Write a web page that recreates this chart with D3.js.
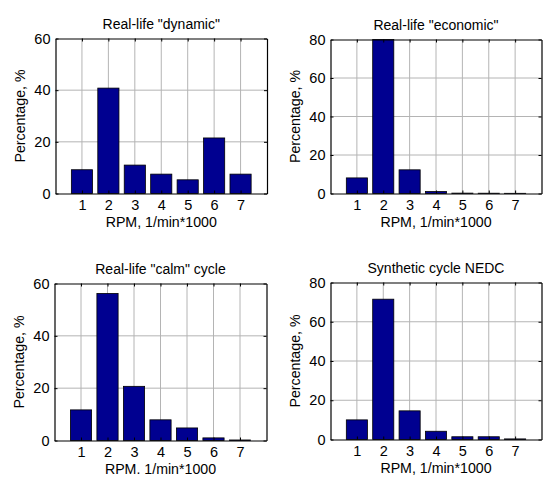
<!DOCTYPE html>
<html>
<head>
<meta charset="utf-8">
<script src="https://cdn.jsdelivr.net/npm/d3@7"></script>
<style>
  body { margin: 0; background: #fff; }
  svg text { font-family: "Liberation Sans", Arial, sans-serif; fill: #000; }
</style>
</head>
<body>
<div id="chart"></div>
<script>
// RPM bins, 1/min*1000
var rpm = [1, 2, 3, 4, 5, 6, 7];

var titles = ['Real-life "dynamic"', 'Real-life "economic"', 'Real-life "calm" cycle', 'Synthetic cycle NEDC'];
var xLabels = ["RPM, 1/min*1000", "RPM, 1/min*1000", "RPM. 1/min*1000", "RPM, 1/min*1000"];

var dynamicPct  = [9.2, 40.8, 11.0, 7.5, 5.3, 21.5, 7.5];
var economicPct = [8.1, 80, 12.3, 1.0, 0.2, 0.15, 0.1];
var calmPct     = [11.7, 56.2, 20.7, 7.9, 4.8, 1.0, 0.2];
var nedcPct     = [10.0, 71.5, 14.6, 4.2, 1.4, 1.4, 0.3];

var yTicks60 = [0, 20, 40, 60];
var yTicks80 = [0, 20, 40, 60, 80];

var W = 544, H = 478;

var svg = d3.select("#chart")
    .append("svg")
    .attr("width", W)
    .attr("height", H);

var panels = [
    { values: dynamicPct,  yMax: 60, yTicks: yTicks60, box: { left: 55.5,  right: 267,   top: 38.5,  bottom: 193.5 } },
    { values: economicPct, yMax: 80, yTicks: yTicks80, box: { left: 330.5, right: 541.5, top: 39.5,  bottom: 193.5 } },
    { values: calmPct,     yMax: 60, yTicks: yTicks60, box: { left: 54.5,  right: 266.5, top: 283.5, bottom: 440.5 } },
    { values: nedcPct,     yMax: 80, yTicks: yTicks80, box: { left: 330.5, right: 541.5, top: 282.5, bottom: 439.5 } }
];

panels.forEach(function(p, i) {
    var b = p.box;
    var width = b.right - b.left;
    var height = b.bottom - b.top;

    var g = svg.append("g")
        .attr("transform", "translate(" + b.left + "," + b.top + ")");

    var x = d3.scaleLinear().domain([0, 8]).range([0, width]);
    var y = d3.scaleLinear().domain([0, p.yMax]).range([height, 0]);

    // grid
    g.append("g")
        .selectAll("line")
        .data(rpm)
        .enter().append("line")
        .attr("x1", function(d) { return x(d); })
        .attr("x2", function(d) { return x(d); })
        .attr("y1", 0)
        .attr("y2", height)
        .attr("stroke", "#b4b4b4")
        .attr("stroke-width", 1);

    g.append("g")
        .selectAll("line")
        .data(p.yTicks.slice(1, -1))
        .enter().append("line")
        .attr("x1", 0)
        .attr("x2", width)
        .attr("y1", function(d) { return y(d); })
        .attr("y2", function(d) { return y(d); })
        .attr("stroke", "#b4b4b4")
        .attr("stroke-width", 1);

    // bars
    var bw = x(0.8) - x(0);
    g.append("g")
        .selectAll("rect")
        .data(p.values)
        .enter().append("rect")
        .attr("x", function(d, j) { return x(rpm[j]) - bw / 2; })
        .attr("y", function(d) { return y(Math.min(d, p.yMax)); })
        .attr("width", bw)
        .attr("height", function(d) { return height - y(Math.min(d, p.yMax)); })
        .attr("fill", "#000090")
        .attr("stroke", "#000")
        .attr("stroke-width", 0.8);

    // axes (MATLAB style box, inward ticks)
    var xAxis = g.append("g")
        .attr("transform", "translate(0," + height + ")")
        .call(d3.axisBottom(x).tickValues(rpm).tickSizeInner(-3).tickSizeOuter(0).tickPadding(6));
    var xTop = g.append("g")
        .call(d3.axisTop(x).tickValues(rpm).tickSizeInner(-3).tickSizeOuter(0).tickFormat(""));
    var yAxis = g.append("g")
        .call(d3.axisLeft(y).tickValues(p.yTicks).tickSizeInner(-3).tickSizeOuter(0).tickPadding(5));
    var yRight = g.append("g")
        .attr("transform", "translate(" + width + ",0)")
        .call(d3.axisRight(y).tickValues(p.yTicks).tickSizeInner(-3).tickSizeOuter(0).tickFormat(""));

    [xAxis, xTop, yAxis, yRight].forEach(function(a) {
        a.select(".domain").attr("stroke", "#000").attr("stroke-width", 1.2);
        a.selectAll(".tick line").attr("stroke", "#000");
        a.selectAll("text").style("font-size", "14.5px").attr("fill", "#000");
    });
    xAxis.selectAll(".tick text").attr("dy", "0.71em");

    // title
    g.append("text")
        .attr("x", width / 2)
        .attr("y", -9.5)
        .attr("text-anchor", "middle")
        .style("font-size", "14px")
        .text(titles[i]);

    // x label
    g.append("text")
        .attr("x", width / 2)
        .attr("y", height + 33)
        .attr("text-anchor", "middle")
        .style("font-size", "14.2px")
        .text(xLabels[i]);

    // y label
    g.append("text")
        .attr("transform", "translate(-30.5," + (height / 2) + ") rotate(-90)")
        .attr("text-anchor", "middle")
        .style("font-size", "14.2px")
        .text("Percentage, %");
});
</script>
</body>
</html>
